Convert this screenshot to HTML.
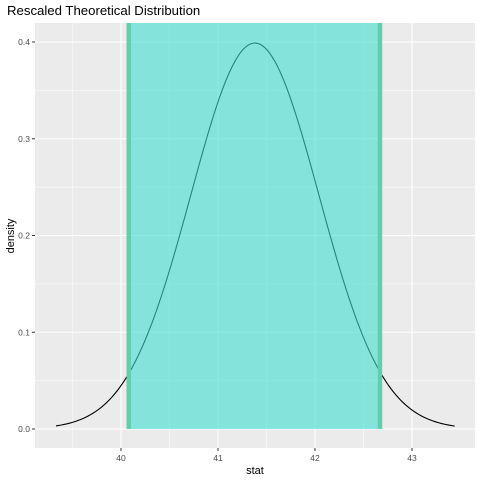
<!DOCTYPE html>
<html><head><meta charset="utf-8"><style>
body{margin:0;background:#fff}
svg text{font-family:"Liberation Sans",sans-serif}
</style></head><body>
<svg id="chart" width="480" height="480" xmlns="http://www.w3.org/2000/svg">
<rect x="0" y="0" width="480" height="480" fill="#fff"/>
<text x="7" y="15" font-size="13.2" fill="#000">Rescaled Theoretical Distribution</text>
<rect x="35" y="23" width="440" height="425" fill="#ebebeb"/>
<g id="grid"></g>
<g id="shade"></g>
<g id="curve"></g>
<g id="axes"></g>
<text x="255" y="474" font-size="11" text-anchor="middle" fill="#000">stat</text>
<text x="14" y="236" font-size="11" text-anchor="middle" fill="#000" transform="rotate(-90 14 236)">density</text>
</svg>
<script>
const xTicks = [40, 41, 42, 43];
const yTicks = [0.0, 0.1, 0.2, 0.3, 0.4];
const yTickLabels = ["0.0", "0.1", "0.2", "0.3", "0.4"];
const distMean = [41.38];
const distSd = [0.66];
const curveRange = [39.33, 43.44];
const shadeRange = [40.08, 42.67];

const NS = "http://www.w3.org/2000/svg";
const X = v => 121 + (v - 40) * 97;
const Y = v => 429 - v * 967.5;
function mk(tag, attrs, parent) {
  const e = document.createElementNS(NS, tag);
  for (const k in attrs) e.setAttribute(k, attrs[k]);
  document.getElementById(parent).appendChild(e);
  return e;
}
for (let i = 0; i < xTicks.length; i++) {
  const g = mk("line", {x1: X(xTicks[i]), x2: X(xTicks[i]), y1: 23, y2: 448, stroke: "#fff", "stroke-width": 1.1}, "grid");
  
  
  if (i < xTicks.length - 1) {
    const m = (xTicks[i] + xTicks[i + 1]) / 2;
    const mg = mk("line", {x1: X(m), x2: X(m), y1: 23, y2: 448, stroke: "#fff", "stroke-width": 0.5}, "grid");
    
    
  }
}
{
  const m = xTicks[0] - 0.5;
  const mg = mk("line", {x1: X(m), x2: X(m), y1: 23, y2: 448, stroke: "#fff", "stroke-width": 0.5}, "grid");
  
  
}
for (let i = 0; i < yTicks.length; i++) {
  const g = mk("line", {x1: 35, x2: 475, y1: Y(yTicks[i]), y2: Y(yTicks[i]), stroke: "#fff", "stroke-width": 1.1}, "grid");
  
  
  if (i < yTicks.length - 1) {
    const m = (yTicks[i] + yTicks[i + 1]) / 2;
    const mg = mk("line", {x1: 35, x2: 475, y1: Y(m), y2: Y(m), stroke: "#fff", "stroke-width": 0.5}, "grid");
    
    
  }
}
let d = "";
const n = 200;
for (let i = 0; i <= n; i++) {
  const x = curveRange[0] + (curveRange[1] - curveRange[0]) * i / n;
  const z = (x - distMean[0]) / distSd[0];
  const y = Math.exp(-z * z / 2) / Math.sqrt(2 * Math.PI);
  d += (i ? "L" : "M") + X(x).toFixed(2) + "," + Y(y).toFixed(2);
}
const c = mk("path", {d: d, fill: "none", stroke: "#000", "stroke-width": 1.1}, "curve");


const sg = document.getElementById("shade");
document.getElementById("chart").appendChild(sg);
const r = mk("rect", {x: X(shadeRange[0]), y: 23, width: X(shadeRange[1]) - X(shadeRange[0]), height: Y(0) - 23, fill: "#40e0d0", "fill-opacity": 0.6}, "shade");


for (const v of shadeRange) {
  const l = mk("line", {x1: X(v), x2: X(v), y1: 23, y2: Y(0), stroke: "#66cdaa", "stroke-width": 4.5}, "shade");
  
  
}
const ax = document.getElementById("axes");
document.getElementById("chart").appendChild(ax);
xTicks.forEach(v => {
  const t = mk("line", {x1: X(v), x2: X(v), y1: 448, y2: 451, stroke: "#333", "stroke-width": 1}, "axes");
  
  
  const l = mk("text", {x: X(v), y: 461, "font-size": 8.5, "text-anchor": "middle", fill: "#4d4d4d"}, "axes");
  l.textContent = v;
  
  
});
yTicks.forEach((v, i) => {
  const t = mk("line", {x1: 32, x2: 35, y1: Y(v), y2: Y(v), stroke: "#333", "stroke-width": 1}, "axes");
  
  
  const l = mk("text", {x: 30, y: Y(v) + 3, "font-size": 8.5, "text-anchor": "end", fill: "#4d4d4d"}, "axes");
  l.textContent = yTickLabels[i];
  
  
});
</script>
</body></html>
